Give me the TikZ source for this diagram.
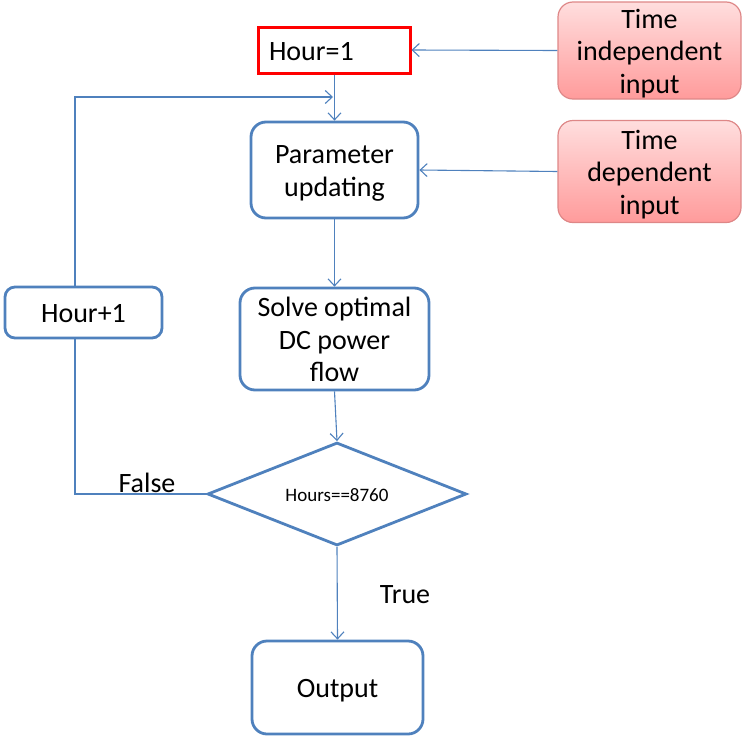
\documentclass[tikz,border=0pt]{standalone}
\usepackage{fontspec}
\setmainfont{Carlito}
\usetikzlibrary{shapes.geometric,arrows.meta}
\definecolor{flowblue}{RGB}{79,129,189}
\definecolor{pinktop}{RGB}{255,222,222}
\definecolor{pinkbot}{RGB}{255,155,155}
\definecolor{pinkline}{RGB}{222,135,135}
\newcommand\tline[1]{\raisebox{0pt}[26pt][6pt]{#1}}
\newcommand\dline[1]{\raisebox{-1pt}[16pt][4pt]{#1}}
\begin{document}
\begin{tikzpicture}[x=1pt,y=-1pt,
  font=\fontsize{28}{32.5}\selectfont,
  bluebox/.style={draw=flowblue,line width=2.8pt,rounded corners=15pt,fill=white,align=center,inner sep=0pt},
  pinkbox/.style={draw=pinkline,line width=1.2pt,rounded corners=15pt,top color=pinktop,bottom color=pinkbot,align=center,inner sep=0pt,minimum width=183pt,minimum height=96pt},
  redbox/.style={draw=red,line width=3pt,fill=white,inner xsep=11pt,inner ysep=0pt,text width=130pt,align=left,minimum height=46pt},
  conn/.style={draw=flowblue,line width=1.1pt},
  arr/.style={conn,-{Straight Barb[length=7pt,width=13pt]}},
  lbl/.style={inner sep=0pt}
]
\useasboundingbox (0,0) rectangle (743,736);

\node[redbox] (h1) at (334,50) {\tline{Hour=1}};
\node[pinkbox] (ti) at (649.5,50.5) {\tline{Time}\\\tline{independent}\\\tline{input}};
\node[pinkbox,minimum height=102pt] (td) at (649.5,171.5) {\tline{Time}\\\tline{dependent}\\\tline{input}};
\node[bluebox,minimum width=167pt,minimum height=96pt] (pu) at (334.5,170) {\tline{Parameter}\\\tline{updating}};
\node[bluebox,minimum width=157pt,minimum height=51pt,rounded corners=10pt] (hp) at (83.5,312.5) {\tline{Hour+1}};
\node[bluebox,minimum width=189pt,minimum height=102pt] (so) at (334.5,339) {\tline{Solve optimal}\\\tline{DC power}\\\tline{flow}};
\node[draw=flowblue,line width=2.8pt,diamond,aspect=2.55,fill=white,minimum width=259pt,minimum height=103pt,inner sep=0pt,font=\fontsize{19}{22}\selectfont] (dia) at (337,494) {\dline{Hours==8760}};
\node[bluebox,minimum width=171pt,minimum height=93pt] (out) at (337.5,687.5) {\tline{Output}};

\node[lbl] (fl) at (147,482) {\tline{False}};
\node[lbl] (tl) at (405,593) {\tline{True}};

\coordinate (j) at (333,97);

\draw[arr] (h1.south -| pu.north) -- (pu.north);
\draw[arr] ([xshift=-8.5pt]hp.north) |- (j);
\draw[arr] (ti.west) -- (h1.east);
\draw[arr] (td.west) -- (pu.east);
\draw[arr] (pu.south) -- (so.north);
\draw[arr] (so.south) -- (dia.north);
\draw[conn] (dia.west) -| ([xshift=-8.5pt]hp.south);
\draw[arr] (dia.south) -- (out.north);
\end{tikzpicture}
\end{document}
